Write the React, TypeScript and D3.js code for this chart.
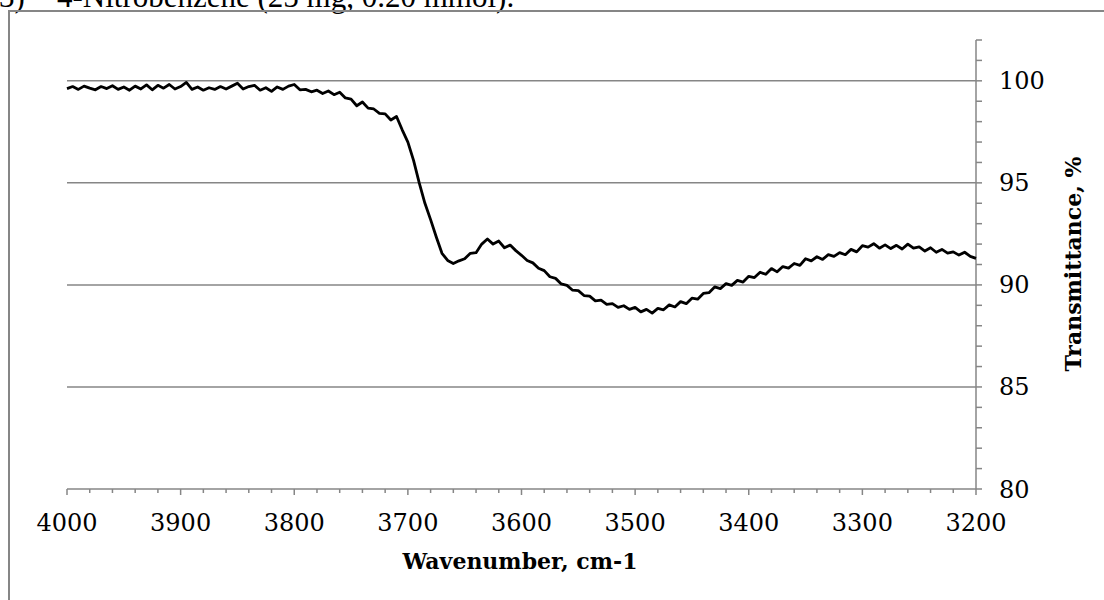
import React from "react";
import * as d3 from "d3";

const WN_START = 4000;
const WN_STEP = -5;
const transmittance: number[] = [
  99.62, 99.72, 99.58, 99.74, 99.64, 99.56, 99.72, 99.62, 99.76, 99.58,
  99.70, 99.54, 99.74, 99.60, 99.80, 99.56, 99.78, 99.64, 99.82, 99.60,
  99.72, 99.92, 99.58, 99.70, 99.54, 99.66, 99.58, 99.72, 99.60, 99.74,
  99.88, 99.60, 99.72, 99.78, 99.54, 99.66, 99.48, 99.70, 99.58, 99.74,
  99.82, 99.56, 99.58, 99.46, 99.54, 99.38, 99.50, 99.32, 99.44, 99.16,
  99.10, 98.78, 98.96, 98.66, 98.62, 98.40, 98.38, 98.08, 98.25, 97.60,
  97.00, 96.10, 95.00, 94.00, 93.20, 92.35, 91.55, 91.20, 91.05, 91.18,
  91.28, 91.55, 91.58, 92.00, 92.25, 92.00, 92.15, 91.82, 91.95, 91.68,
  91.45, 91.20, 91.08, 90.82, 90.70, 90.40, 90.32, 90.05, 89.98, 89.74,
  89.72, 89.48, 89.45, 89.22, 89.25, 89.05, 89.08, 88.90, 88.98, 88.80,
  88.90, 88.68, 88.80, 88.62, 88.85, 88.78, 89.02, 88.92, 89.18, 89.08,
  89.35, 89.30, 89.58, 89.62, 89.90, 89.82, 90.06, 89.98, 90.22, 90.14,
  90.42, 90.36, 90.62, 90.52, 90.80, 90.64, 90.90, 90.82, 91.05, 90.96,
  91.28, 91.18, 91.38, 91.25, 91.48, 91.40, 91.58, 91.48, 91.74, 91.62,
  91.92, 91.85, 92.02, 91.80, 91.96, 91.78, 91.94, 91.76, 92.00, 91.80,
  91.86, 91.66, 91.82, 91.60, 91.74, 91.56, 91.62, 91.46, 91.60, 91.40,
  91.30,
];
const xTickLabels = [4000, 3900, 3800, 3700, 3600, 3500, 3400, 3300, 3200];
const yTickLabels = [80, 85, 90, 95, 100];
const gridValues = [85, 90, 95, 100];

const W = 1104;
const H = 600;
const X0 = 67;
const X1 = 976;
const Y0 = 489;
const Y1 = 40;
const AXIS = "#868686";
const FONT = "'DejaVu Serif', serif";

export default function App() {
  const x = d3.scaleLinear().domain([4000, 3200]).range([X0, X1]);
  const y = d3.scaleLinear().domain([80, 102]).range([Y0, Y1]);
  const data = transmittance.map((t, i) => ({ wn: WN_START + i * WN_STEP, t }));
  const line = d3
    .line<{ wn: number; t: number }>()
    .x((d) => x(d.wn))
    .y((d) => y(d.t));
  const xMinor = d3.range(4000, 3199, -20);
  const yMinor = d3.range(80, 102.5, 1);

  return (
    <svg
      width={W}
      height={H}
      style={{ position: "absolute", left: 0, top: 0, background: "#fff" }}
    >
      <text
        x={-1}
        y={7}
        fontFamily="'Liberation Serif', serif"
        fontSize={31}
        fill="#000"
      >
        3)
      </text>
      <text
        x={57}
        y={7}
        fontFamily="'Liberation Serif', serif"
        fontSize={31}
        fill="#000"
      >
        4-Nitrobenzene (25 mg, 0.20 mmol).
      </text>
      <rect
        x={9}
        y={11}
        width={W + 20}
        height={H + 20}
        fill="none"
        stroke={AXIS}
        strokeWidth={2}
      />
      {gridValues.map((v) => (
        <line
          key={"g" + v}
          x1={X0}
          x2={X1}
          y1={y(v)}
          y2={y(v)}
          stroke={AXIS}
          strokeWidth={1.5}
        />
      ))}
      <line x1={X0} x2={X1} y1={Y0} y2={Y0} stroke={AXIS} strokeWidth={1.5} />
      {xMinor.map((v) => (
        <line
          key={"xt" + v}
          x1={x(v)}
          x2={x(v)}
          y1={Y0}
          y2={Y0 + (v % 100 === 0 ? 6 : 4)}
          stroke={AXIS}
          strokeWidth={1.5}
        />
      ))}
      {xTickLabels.map((v) => (
        <text
          key={"xl" + v}
          x={x(v)}
          y={531}
          textAnchor="middle"
          fontFamily={FONT}
          fontSize={24}
          fill="#000"
        >
          {v}
        </text>
      ))}
      <line x1={X1} x2={X1} y1={Y1} y2={Y0} stroke={AXIS} strokeWidth={1.5} />
      {yMinor.map((v) => (
        <line
          key={"yt" + v}
          x1={X1}
          x2={X1 + 6}
          y1={y(v)}
          y2={y(v)}
          stroke={AXIS}
          strokeWidth={1.5}
        />
      ))}
      {yTickLabels.map((v) => (
        <text
          key={"yl" + v}
          x={999}
          y={y(v) + 8.5}
          textAnchor="start"
          fontFamily={FONT}
          fontSize={24}
          fill="#000"
        >
          {v}
        </text>
      ))}
      <path
        d={line(data) || ""}
        fill="none"
        stroke="#000"
        strokeWidth={2.8}
        strokeLinejoin="round"
      />
      <text
        x={520}
        y={569}
        textAnchor="middle"
        fontFamily={FONT}
        fontWeight="bold"
        fontSize={22}
        fill="#000"
      >
        Wavenumber, cm-1
      </text>
      <text
        transform="translate(1081,264) rotate(-90)"
        textAnchor="middle"
        fontFamily={FONT}
        fontWeight="bold"
        fontSize={22}
        fill="#000"
      >
        Transmittance, %
      </text>
    </svg>
  );
}
